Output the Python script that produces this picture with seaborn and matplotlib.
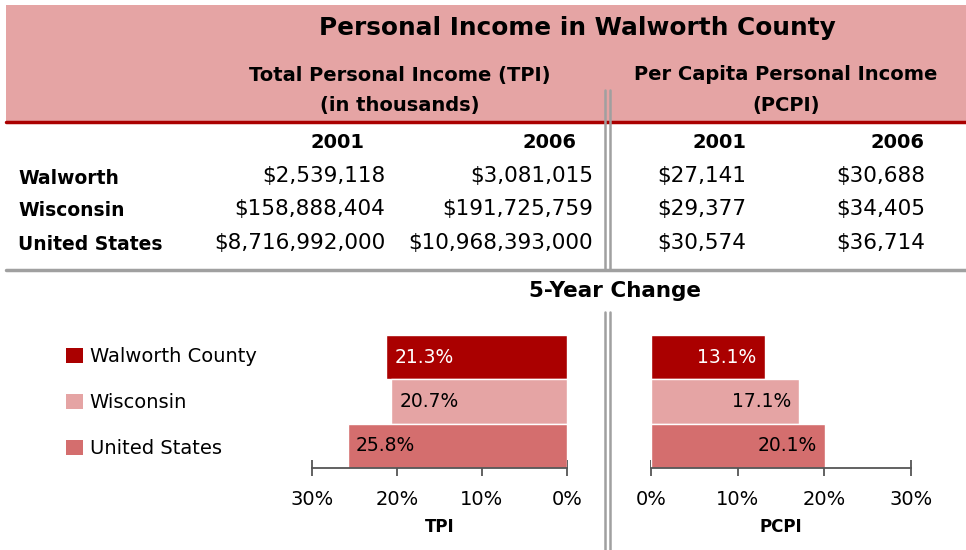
import numpy as np
import pandas as pd
import matplotlib
matplotlib.use('Agg')
import matplotlib.pyplot as plt
import seaborn as sns
from matplotlib.patches import Rectangle, Patch
from matplotlib.lines import Line2D
from matplotlib.ticker import FuncFormatter

# ---------- dados ----------
regions = ['Walworth', 'Wisconsin', 'United States']
legend_labels = ['Walworth County', 'Wisconsin', 'United States']
years = ['2001', '2006']
tpi_2001 = ['$2,539,118', '$158,888,404', '$8,716,992,000']
tpi_2006 = ['$3,081,015', '$191,725,759', '$10,968,393,000']
pcpi_2001 = ['$27,141', '$29,377', '$30,574']
pcpi_2006 = ['$30,688', '$34,405', '$36,714']
tpi_change = [21.3, 20.7, 25.8]
pcpi_change = [13.1, 17.1, 20.1]
colors = ['#AA0000', '#E5A4A4', '#D46E6E']
label_colors = ['white', 'black', 'black']

W, H = 966, 550
def fx(x): return x / W
def fy(y): return 1 - y / H

sns.set_theme(style='white')
plt.rcParams['font.family'] = ['DejaVu Sans']
plt.rcParams['text.color'] = 'black'
plt.rcParams['axes.labelcolor'] = 'black'
plt.rcParams['xtick.color'] = 'black'

fig = plt.figure(figsize=(W / 100, H / 100), dpi=100)
fig.patch.set_facecolor('white')

# ---------- cabeçalho da tabela ----------
fig.add_artist(Rectangle((fx(6), fy(121)), fx(960), 116 / H, transform=fig.transFigure,
                         facecolor='#E5A4A4', edgecolor='none', zorder=0))
fig.add_artist(Line2D([fx(6), fx(966)], [fy(122), fy(122)], transform=fig.transFigure,
                      color='#AA0000', lw=2.5))
fig.add_artist(Line2D([fx(6), fx(966)], [fy(270), fy(270)], transform=fig.transFigure,
                      color='#A0A0A0', lw=2.5))
for xv in (605, 610):
    fig.add_artist(Line2D([fx(xv), fx(xv)], [fy(90), fy(270)], transform=fig.transFigure,
                          color='#A0A0A0', lw=1.8))
    fig.add_artist(Line2D([fx(xv), fx(xv)], [fy(312), fy(550)], transform=fig.transFigure,
                          color='#A0A0A0', lw=1.8))

fig.text(fx(577), fy(28), 'Personal Income in Walworth County', ha='center', va='center',
         fontsize=17.8, fontweight='bold')
for txt, cx, cy in [('Total Personal Income (TPI)', 400, 75), ('(in thousands)', 400, 105),
                    ('Per Capita Personal Income', 786, 75), ('(PCPI)', 786, 105)]:
    fig.text(fx(cx), fy(cy), txt, ha='center', va='center', fontsize=14, fontweight='bold')

# ---------- corpo da tabela ----------
head_x = [338, 549, 719, 898]
for cx, yr in zip(head_x, years * 2):
    fig.text(fx(cx), fy(143), yr, ha='center', va='center', fontsize=14, fontweight='bold')

col_right = [385, 593, 746, 925]
row_y = [178, 211, 245]
for i, r in enumerate(regions):
    fig.text(fx(18), fy(row_y[i]), r, ha='left', va='center', fontsize=13.5, fontweight='bold')
    for cx, col in zip(col_right, [tpi_2001, tpi_2006, pcpi_2001, pcpi_2006]):
        fig.text(fx(cx), fy(row_y[i] - 2), col[i], ha='right', va='center', fontsize=15.5)

fig.text(fx(615), fy(291), '5-Year Change', ha='center', va='center',
         fontsize=15.5, fontweight='bold')

# ---------- gráfico de barras ----------
df = pd.DataFrame({'region': legend_labels, 'tpi': tpi_change, 'pcpi': pcpi_change})
pal = dict(zip(legend_labels, colors))

axL = fig.add_axes([fx(312), fy(468), 255 / W, 133 / H])
axR = fig.add_axes([fx(651), fy(468), 260 / W, 133 / H])

pct = FuncFormatter(lambda v, p: f'{v:.0f}%')
for ax, col, name, lim in [(axL, 'tpi', 'TPI', (30, 0)), (axR, 'pcpi', 'PCPI', (0, 30))]:
    sns.barplot(data=df, x=col, y='region', hue='region', palette=pal, width=1,
                saturation=1, orient='h', legend=False, ax=ax)
    ax.set_xlim(*lim)
    ax.set_ylim(2.5, -0.5)
    ax.set_facecolor('none')
    for s in ['top', 'left', 'right']:
        ax.spines[s].set_visible(False)
    ax.spines['bottom'].set_color('#555555')
    ax.spines['bottom'].set_linewidth(1.3)
    ax.set_yticks([])
    ax.set_ylabel('')
    ax.set_xticks([0, 10, 20, 30])
    ax.xaxis.set_major_formatter(pct)
    ax.tick_params(axis='x', direction='inout', length=11, width=1.3, color='#555555',
                   labelcolor='black', pad=10, labelsize=14, bottom=True)
    ax.set_xlabel(name, fontsize=12, fontweight='bold', labelpad=7)

for i, v in enumerate(tpi_change):
    axL.annotate(f'{v:.1f}%', (v, i), xytext=(6, 0), textcoords='offset points',
                 ha='left', va='center', fontsize=13.5, color=label_colors[i])
for i, v in enumerate(pcpi_change):
    axR.annotate(f'{v:.1f}%', (v, i), xytext=(-6, 0), textcoords='offset points',
                 ha='right', va='center', fontsize=13.5, color=label_colors[i])

handles = [Patch(facecolor=c, edgecolor='none') for c in colors]
fig.legend(handles, legend_labels, loc='upper left', bbox_to_anchor=(fx(66), fy(347)),
           frameon=False, handlelength=0.87, handleheight=0.8,
           handletextpad=0.35, labelspacing=1.4, borderaxespad=0, borderpad=0,
           prop={'family': 'DejaVu Sans', 'size': 14})

fig.savefig('out.png', dpi=100)
